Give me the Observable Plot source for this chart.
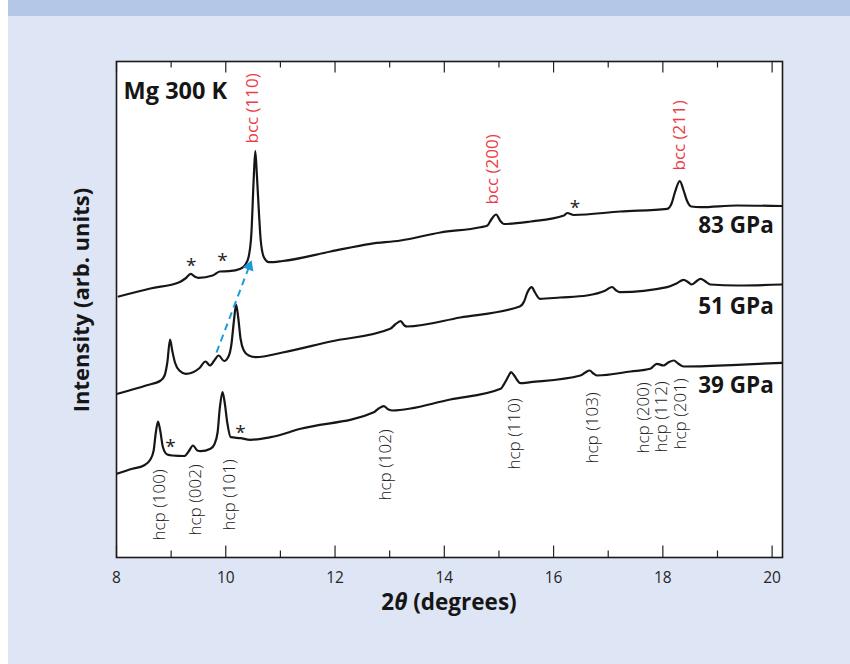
<!DOCTYPE html>
<html>
<head>
<meta charset="utf-8">
<script src="https://cdn.jsdelivr.net/npm/d3@7"></script>
<script src="https://cdn.jsdelivr.net/npm/@observablehq/plot@0.6"></script>
<style>
  html, body { margin: 0; padding: 0; background: #ffffff; }
  #page { position: relative; width: 850px; height: 664px; overflow: hidden; }
  #bg { position: absolute; left: 8px; top: 0; width: 842px; height: 664px; background: #dee5f4; }
  #band { position: absolute; left: 8px; top: 0; width: 842px; height: 16px; background: #b4c7e7; }
  #chart { position: absolute; left: 0; top: 0; }
</style>
</head>
<body>
<div id="page">
  <div id="bg"></div>
  <div id="band"></div>
  <div id="chart"></div>
</div>
<script>
// ---- data (x: 2θ in degrees, y: intensity, arbitrary units incl. offset) ----
const x83 = [8.04, 8.62, 9.15, 9.26, 9.36, 9.43, 9.50, 9.76, 9.89, 10.06, 10.27, 10.36, 10.42, 10.47, 10.51, 10.54, 10.57, 10.61, 10.64, 10.70, 10.79, 11.04, 11.92, 12.65, 13.20, 13.93, 14.66, 14.79, 14.86, 14.95, 15.02, 15.09, 15.58, 16.19, 16.25, 16.37, 17.22, 18.08, 18.16, 18.22, 18.31, 18.38, 18.44, 18.52, 18.69, 19.36, 20.18];
const y83 = [261, 269, 275.3, 279, 283.7, 281, 279.7, 282, 286, 286.3, 288.7, 293, 301, 325, 377, 406.3, 382, 342, 317, 300, 295.3, 296.5, 306, 313.7, 317, 325, 330.3, 332, 338, 343, 337, 333.5, 336, 342, 344.5, 342.5, 346, 348.7, 354, 365, 376.3, 367, 357, 351, 350.3, 352, 351.5];

const x51 = [8.02, 8.54, 8.81, 8.88, 8.93, 8.98, 9.02, 9.07, 9.15, 9.27, 9.51, 9.63, 9.71, 9.79, 9.87, 9.97, 10.05, 10.10, 10.15, 10.19, 10.23, 10.27, 10.33, 10.42, 10.55, 11.04, 11.92, 13.01, 13.10, 13.20, 13.27, 13.32, 14.29, 15.38, 15.46, 15.52, 15.60, 15.66, 15.75, 16.12, 16.61, 16.95, 17.07, 17.15, 17.22, 18.08, 18.25, 18.38, 18.47, 18.53, 18.61, 18.69, 18.78, 18.87, 19.36, 20.18];
const y51 = [163.7, 172, 177, 182, 195, 218, 207, 195, 187, 183.7, 189, 196, 192, 197, 202, 196.5, 201, 212, 237, 253, 239, 219, 207, 202, 200.3, 205, 216, 228.7, 233, 236.3, 232, 231, 240, 251, 256, 265, 270.3, 265, 258.7, 260, 262, 267, 270.5, 267, 265.3, 270.3, 274, 277.7, 275, 273, 276, 278.7, 276, 273, 272, 273];

const x39 = [8.02, 8.29, 8.50, 8.62, 8.68, 8.72, 8.76, 8.80, 8.85, 8.93, 9.02, 9.24, 9.32, 9.40, 9.48, 9.54, 9.72, 9.79, 9.85, 9.89, 9.94, 9.98, 10.03, 10.09, 10.27, 10.45, 10.82, 11.37, 12.71, 12.80, 12.89, 12.98, 13.05, 14.11, 15.03, 15.12, 15.18, 15.22, 15.28, 15.34, 15.39, 15.58, 16.49, 16.58, 16.66, 16.73, 16.80, 17.41, 17.77, 17.89, 18.01, 18.10, 18.20, 18.28, 18.38, 19.36, 20.18];
const y39 = [84, 88.7, 92, 98, 107, 125, 136, 127, 110.3, 103, 102, 101.5, 106, 112, 107, 106.3, 108.7, 113, 125, 149, 165.5, 155, 134, 120.3, 119.3, 117.7, 120.3, 128.7, 145.3, 149, 151.3, 148, 147, 158, 168.7, 176, 182, 185.3, 182, 177, 174.3, 175.3, 182, 185, 187, 184, 182, 186, 188.7, 193.7, 192, 195, 197, 194, 191, 192.7, 194.7];

const pressLabels = ["83 GPa", "51 GPa", "39 GPa"];
const pressY = [332, 251, 171.5];

const bccLabels = ["bcc (110)", "bcc (200)", "bcc (211)"];
const bccX = [10.49, 14.88, 18.30];
const bccY = [414, 353, 387];

const hcpLabels = ["hcp (100)", "hcp (002)", "hcp (101)", "hcp (102)", "hcp (110)", "hcp (103)", "hcp (200)", "hcp (112)", "hcp (201)"];
const hcpX = [8.79, 9.45, 10.07, 12.92, 15.28, 16.71, 17.64, 17.97, 18.32];
const hcpY = [17, 22, 27, 57, 88, 94, 104, 105, 108];

const starX = [9.37, 9.94, 16.39, 8.99, 10.27];
const starY = [295.3, 300.3, 353.7, 114.3, 128.7];

const arrowX = [9.83, 10.43];
const arrowY = [205, 291.2];

const majorTicks = [8, 10, 12, 14, 16, 18, 20];
const minorTicks = [9, 11, 13, 15, 17, 19];

const xDomain = [8, 20.19];
const yDomain = [0, 496];

// ---- build table ----
const traces = [];
x83.forEach((x, i) => traces.push({s: "83", x, y: y83[i]}));
x51.forEach((x, i) => traces.push({s: "51", x, y: y51[i]}));
x39.forEach((x, i) => traces.push({s: "39", x, y: y39[i]}));

const RED = "#ec3b45";
const BLUE = "#1e9bd7";
const INK = "#161616";
const yTop = yDomain[1];

const chart = Plot.plot({
  width: 850,
  height: 664,
  marginLeft: 116,
  marginRight: 68,
  marginTop: 61,
  marginBottom: 107,
  x: {domain: xDomain, label: null},
  y: {domain: yDomain, axis: null, label: null},
  style: {background: "transparent", fontFamily: "'Open Sans', 'Noto Sans', sans-serif", color: INK, overflow: "visible"},
  marks: [
    Plot.frame({fill: "white", stroke: "none"}),
    // inward ticks, bottom and top
    Plot.ruleX(majorTicks, {x: d => d, y1: 0, y2: 11.5, stroke: "#222", strokeWidth: 1.2}),
    Plot.ruleX(minorTicks, {x: d => d, y1: 0, y2: 6.5, stroke: "#222", strokeWidth: 1.2}),
    Plot.ruleX(majorTicks, {x: d => d, y1: yTop - 11.5, y2: yTop, stroke: "#222", strokeWidth: 1.2}),
    Plot.ruleX(minorTicks, {x: d => d, y1: yTop - 6.5, y2: yTop, stroke: "#222", strokeWidth: 1.2}),
    Plot.axisX({ticks: majorTicks, tickSize: 0, tickPadding: 14, fontSize: 15.5, fontWeight: 400, fill: "#262626", label: null, tickFormat: d => String(d)}),
    // traces
    Plot.line(traces, {x: "x", y: "y", z: "s", curve: "monotone-x", stroke: INK, strokeWidth: 2.2, strokeLinejoin: "round"}),
    // blue dashed arrow
    Plot.link([0], {x1: arrowX[0], y1: arrowY[0], x2: arrowX[1], y2: arrowY[1], stroke: BLUE, strokeWidth: 2, strokeDasharray: "7,5"}),
    Plot.dot([0], {x: arrowX[1], y: arrowY[1], symbol: "triangle", r: 4.2, rotate: 21, fill: BLUE, stroke: "none"}),
    // labels
    Plot.text(bccLabels, {x: bccX, y: bccY, text: d => d, rotate: -90, textAnchor: "start", fill: RED, fontSize: 17, fontWeight: 400}),
    Plot.text(hcpLabels, {x: hcpX, y: hcpY, text: d => d, rotate: -90, textAnchor: "start", fill: "#222", fontSize: 17, fontWeight: 300}),
    Plot.text(starX, {x: starX, y: starY, text: () => "*", fill: "#222", fontSize: 19, dy: 4}),
    Plot.text(pressLabels, {x: 20.03, y: pressY, text: d => d, textAnchor: "end", fill: INK, fontSize: 22.5, fontWeight: "bold"}),
    Plot.text(["Mg 300 K"], {x: 8.13, y: 466, text: d => d, textAnchor: "start", fill: INK, fontSize: 23.5, fontWeight: "bold"}),
    Plot.frame({stroke: "#1a1a1a", strokeWidth: 1.6})
  ]
});

document.getElementById("chart").appendChild(chart);

// axis titles
const svg = d3.select(chart);
const xt = svg.append("text")
  .attr("x", 449).attr("y", 610)
  .attr("text-anchor", "middle")
  .attr("font-size", 22.5).attr("font-weight", "bold")
  .attr("fill", INK);
xt.append("tspan").text("2");
xt.append("tspan").attr("font-style", "italic").text("θ");
xt.append("tspan").text(" (degrees)");

svg.append("text")
  .attr("transform", "translate(89,300) rotate(-90)")
  .attr("text-anchor", "middle")
  .attr("font-size", 22).attr("font-weight", "bold")
  .attr("fill", INK)
  .text("Intensity (arb. units)");
</script>
</body>
</html>
